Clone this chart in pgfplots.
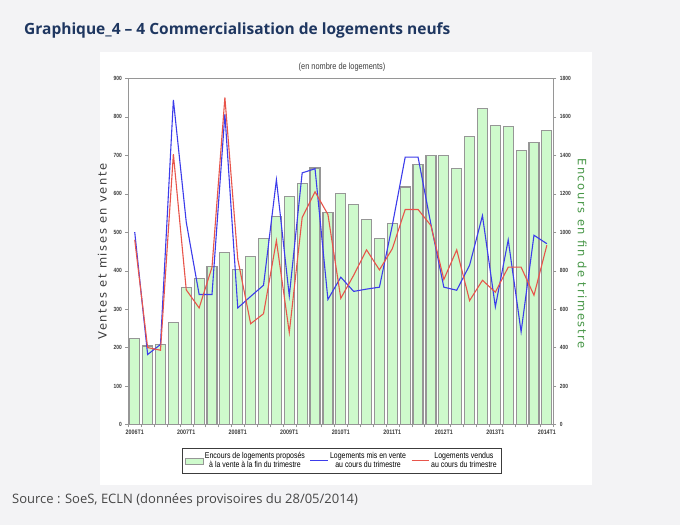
\documentclass[border=0pt]{standalone}
\usepackage{pgfplots}
\pgfplotsset{compat=1.18}
\usepackage{pgfplotstable}
\usepackage{fontspec}
\setmainfont{Liberation Sans}
\newfontfamily\opensans{Open Sans}
\newfontfamily\dejavu[LetterSpace=14]{DejaVu Sans}
\newfontfamily\narrow[FakeStretch=0.82]{Liberation Sans}

\definecolor{pagebg}{RGB}{243,243,245}
\definecolor{titleblue}{RGB}{30,54,96}
\definecolor{srcgray}{RGB}{70,70,70}
\definecolor{bargreen}{RGB}{206,250,204}
\definecolor{bargray}{RGB}{150,150,150}
\definecolor{lineblue}{RGB}{60,60,235}
\definecolor{linered}{RGB}{232,85,75}
\definecolor{labgreen}{RGB}{70,150,70}
\definecolor{labgray}{RGB}{60,60,60}

\pgfplotstableread{
i enc mis vend
0 448 500 480
1 408 182 200
2 417 208 193
3 530 844 703
4 711 526 350
5 758 338 303
6 822 338 409
7 893 807 850
8 806 303 430
9 874 333 262
10 965 362 288
11 1083 636 478
12 1187 334 239
13 1253 654 538
14 1334 665 605
15 1102 325 546
16 1203 383 328
17 1142 346 388
18 1064 352 454
19 969 357 402
20 1043 518 457
21 1235 695 559
22 1353 695 559
23 1397 520 517
24 1400 357 377
25 1329 349 454
26 1499 414 322
27 1644 543 375
28 1556 306 344
29 1549 480 409
30 1424 241 409
31 1468 492 336
32 1528 470 466
}\data

\begin{document}
\begin{tikzpicture}[x=1pt,y=1pt]
\useasboundingbox (0,0) rectangle (680,525);
\fill[pagebg] (0,0) rectangle (680,525);
\fill[white] (100,40) rectangle (592,473);
\node[anchor=base west, inner sep=0pt, text=titleblue, font=\opensans\bfseries\fontsize{15.5}{18}\selectfont] at (24,490) {Graphique\_4 – 4 Commercialisation de logements neufs};
\node[anchor=base west, inner sep=0pt, text=srcgray, font=\opensans\fontsize{13}{15}\selectfont] at (12,22) {Source : SoeS, ECLN (données provisoires du 28/05/2014)};
\node[anchor=center, inner sep=0pt, text=labgray, font=\narrow\fontsize{9}{10}\selectfont] at (342,458) {(en nombre de logements)};

\begin{axis}[
  scale only axis, width=425pt, height=346.2pt,
  at={(128.3pt,100.5pt)}, anchor=south west,
  xmin=-0.5, xmax=32.5, ymin=0, ymax=1800,
  hide x axis,
  axis y line*=right, axis line style={-,draw=bargray},
  ytick={0,200,...,1800}, tick align=outside, major tick length=3pt,
  tick style={bargray},
  /pgf/number format/assume math mode=true,
  yticklabel style={font=\narrow\bfseries\fontsize{6}{6}\selectfont, text=labgray, /pgf/number format/1000 sep={}},
  ylabel={Encours en fin de trimestre},
  ylabel style={font=\dejavu\fontsize{11.5}{12}\selectfont, text=labgreen, rotate=180, xshift=2pt},
]
\addplot[ybar, bar width=10pt, fill=bargreen, draw=bargray, line width=1.2pt] table[x=i,y=enc]{\data};
\end{axis}

\begin{axis}[
  scale only axis, width=425pt, height=346.2pt,
  at={(128.3pt,100.5pt)}, anchor=south west,
  xmin=-0.5, xmax=32.5, ymin=0, ymax=900,
  axis line style={draw=bargray},
  ytick={0,100,...,900}, ytick pos=left,
  xtick={-0.5,0.5,...,32.5}, xticklabels={}, xtick pos=bottom,
  extra x ticks={0,4,...,32},
  extra x tick labels={2006T1,2007T1,2008T1,2009T1,2010T1,2011T1,2012T1,2013T1,2014T1},
  extra x tick style={major tick length=0pt},
  tick align=outside, major tick length=3pt, tick style={bargray},
  /pgf/number format/assume math mode=true,
  yticklabel style={font=\narrow\bfseries\fontsize{6}{6}\selectfont, text=labgray},
  xticklabel style={font=\narrow\bfseries\fontsize{6.5}{7}\selectfont, text=labgray, yshift=-2pt},
  ylabel={Ventes et mises en vente},
  ylabel style={font=\dejavu\fontsize{11.5}{12}\selectfont, text=labgray},
  legend columns=3,
  legend style={at={(0.503,-0.068)}, anchor=north, draw=labgray, fill=white,
    font=\narrow\fontsize{8.5}{9.5}\selectfont, cells={align=center},
    /tikz/every even column/.append style={column sep=3pt}},
]
\addlegendimage{area legend, fill=bargreen, draw=bargray}
\addlegendentry{Encours de logements proposés\\à la vente à la fin du trimestre}
\addplot[lineblue, line width=1.1pt, sharp plot] table[x=i,y=mis]{\data};
\addlegendentry{Logements mis en vente\\au cours du trimestre}
\addplot[linered, line width=1.1pt, sharp plot] table[x=i,y=vend]{\data};
\addlegendentry{Logements vendus\\au cours du trimestre}
\end{axis}
\end{tikzpicture}
\end{document}
